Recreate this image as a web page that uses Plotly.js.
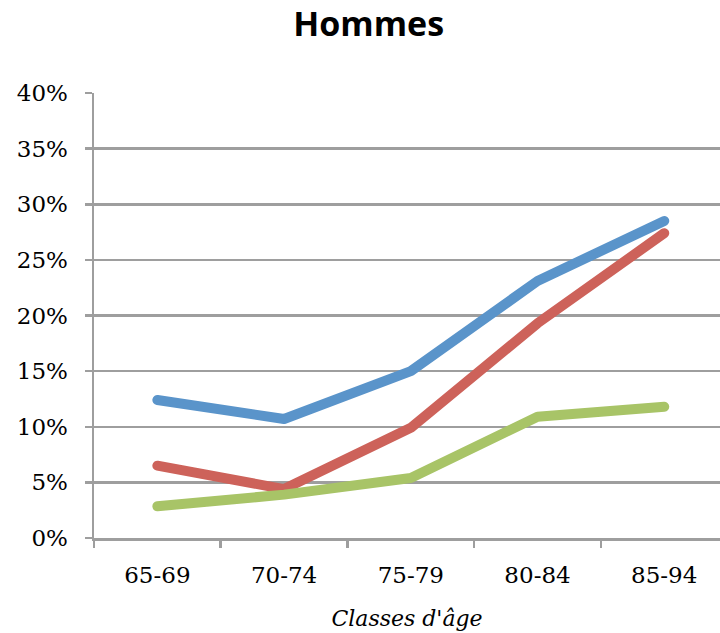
<!DOCTYPE html>
<html>
<head>
<meta charset="utf-8">
<script src="https://cdn.plot.ly/plotly-3.0.1.min.js"></script>
<style>
html, body { margin: 0; padding: 0; background: #fff; }
#chart { width: 720px; height: 633px; }
.js-line { stroke-linecap: round !important; stroke-linejoin: round !important; }
</style>
</head>
<body>
<div id="chart"></div>
<script>
var categories = ["65-69", "70-74", "75-79", "80-84", "85-94"];
var serieBleue = [12.4, 10.7, 15.0, 23.1, 28.5];
var serieRouge = [6.5, 4.4, 9.9, 19.3, 27.4];
var serieVerte = [2.85, 3.9, 5.4, 10.9, 11.8];
var yTicks = [0, 5, 10, 15, 20, 25, 30, 35, 40];

function serie(vals, color) {
  return {
    x: categories, y: vals, type: "scatter", mode: "lines",
    line: { color: color, width: 10 },
    hoverinfo: "skip", showlegend: false
  };
}

var data = [
  serie(serieBleue, "#5A94CA"),
  serie(serieRouge, "#CD625A"),
  serie(serieVerte, "#A8C467")
];

var gridGray = "#9E9E9E";
var layout = {
  width: 720, height: 633,
  margin: { l: 94, r: 0, t: 93, b: 95, pad: 0 },
  paper_bgcolor: "#fff", plot_bgcolor: "#fff",
  title: {
    text: "<b>Hommes</b>",
    font: { family: "Open Sans", size: 34, color: "#000" },
    xref: "container", yref: "container",
    x: 0.512, y: 0.962, xanchor: "center", yanchor: "middle"
  },
  xaxis: {
    type: "category",
    range: [-0.5, 4.44],
    tickson: "boundaries",
    ticks: "outside", ticklen: 7, tickwidth: 2.5, tickcolor: gridGray,
    showline: true, linecolor: gridGray, linewidth: 2.5,
    showgrid: false, zeroline: false,
    ticklabelstandoff: 15,
    tickfont: { family: "DejaVu Serif", size: 23, color: "#000" },
    title: {
      text: "<i>Classes d'âge</i>",
      font: { family: "DejaVu Serif", size: 22, color: "#000" },
      standoff: 24
    },
    fixedrange: true
  },
  yaxis: {
    range: [0, 40],
    tickvals: yTicks,
    ticktext: yTicks.map(function (v) { return v + "%"; }),
    ticks: "outside", ticklen: 7, tickwidth: 2.5, tickcolor: gridGray,
    showline: true, linecolor: gridGray, linewidth: 2.5,
    showgrid: true, gridcolor: gridGray, gridwidth: 2.5,
    zeroline: false,
    ticklabelstandoff: 12,
    tickfont: { family: "DejaVu Serif", size: 23, color: "#000" },
    fixedrange: true
  },
  hovermode: false
};

Plotly.newPlot("chart", data, layout, { staticPlot: true, displayModeBar: false });
</script>
</body>
</html>
